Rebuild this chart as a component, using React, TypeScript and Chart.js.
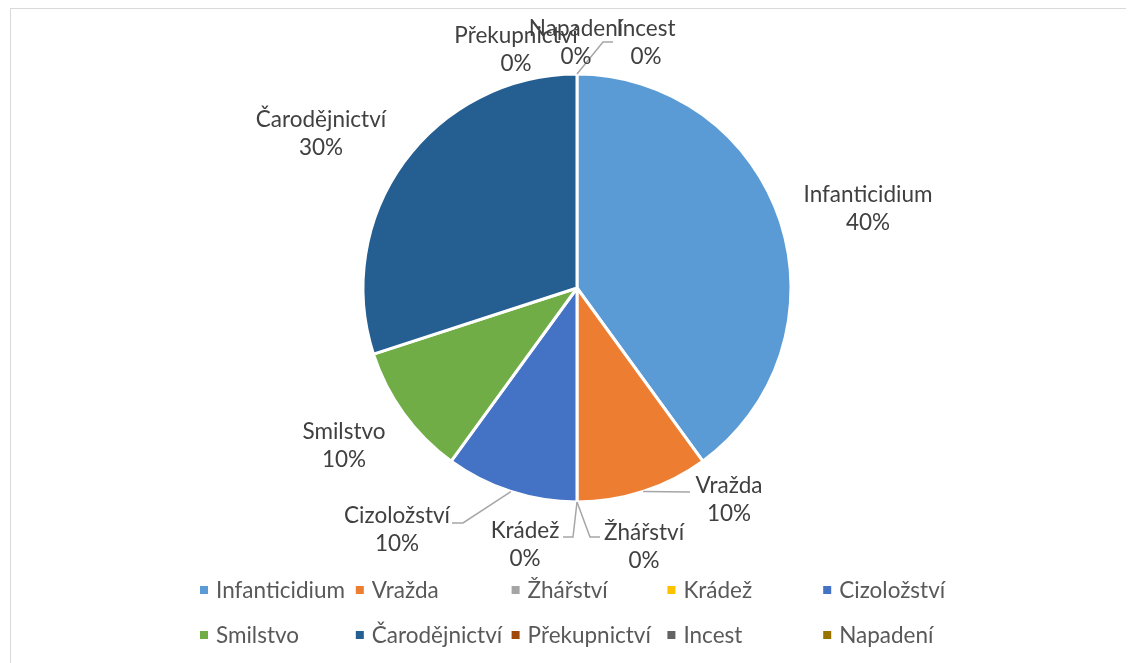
import React, { useEffect, useRef } from "react";
import { Chart, registerables } from "chart.js";

Chart.register(...registerables);

const categories = [
  "Infanticidium",
  "Vražda",
  "Žhářství",
  "Krádež",
  "Cizoložství",
  "Smilstvo",
  "Čarodějnictví",
  "Překupnictví",
  "Incest",
  "Napadení",
];
const counts = [4, 1, 0, 0, 1, 1, 3, 0, 0, 0];
const colors = [
  "#5B9BD5",
  "#ED7D31",
  "#A5A5A5",
  "#FFC000",
  "#4472C4",
  "#70AD47",
  "#255E91",
  "#9E480E",
  "#636363",
  "#997300",
];

// label layout: block centre x and first baseline, relative to pie centre
const labelOffsets: number[][] = [
  [291, -86],
  [152, 205],
  [67, 252],
  [-52, 250],
  [-180, 235],
  [-233, 151],
  [-256, -161],
  [-61, -245],
  [69, -252],
  [-1, -252],
];
// leader line bend points after the slice edge point, relative to pie centre
const leaderPoints: number[][][] = [
  [],
  [[113, 204]],
  [[13, 249], [23, 249]],
  [[-4, 249], [-14, 249]],
  [[-114, 235], [-125, 235]],
  [],
  [],
  [],
  [],
  [[26, -246], [36, -246]],
];

const FONT = "Lato, 'Open Sans', sans-serif";
const FONT_SIZE = 22.5;

const labelPlugin = {
  id: "excelLabels",
  afterDraw(chart: any) {
    const ctx = chart.ctx as CanvasRenderingContext2D;
    const meta = chart.getDatasetMeta(0);
    const data = chart.data.datasets[0].data as number[];
    const total = data.reduce((a, b) => a + b, 0);
    if (!meta.data.length) return;
    const cx = meta.data[0].x;
    const cy = meta.data[0].y;
    ctx.save();
    // leader lines
    ctx.strokeStyle = "#A6A6A6";
    ctx.lineWidth = 1.5;
    meta.data.forEach((el: any, i: number) => {
      const pts = leaderPoints[i];
      if (!pts || !pts.length) return;
      const mid = (el.startAngle + el.endAngle) / 2;
      const r = el.outerRadius;
      ctx.beginPath();
      ctx.moveTo(cx + Math.cos(mid) * r, cy + Math.sin(mid) * r);
      pts.forEach((p) => ctx.lineTo(cx + p[0], cy + p[1]));
      ctx.stroke();
    });
    // labels
    ctx.font = `${FONT_SIZE}px ${FONT}`;
    ctx.fillStyle = "#404040";
    ctx.textAlign = "center";
    ctx.textBaseline = "alphabetic";
    meta.data.forEach((_el: any, i: number) => {
      const off = labelOffsets[i];
      const pct = Math.round((data[i] / total) * 100) + "%";
      ctx.fillText(categories[i], cx + off[0], cy + off[1]);
      ctx.fillText(pct, cx + off[0], cy + off[1] + 28);
    });
    // legend (5 columns x 2 rows)
    const colStart = -377;
    const colStep = 155.8;
    const rowCentres = [302, 347];
    ctx.textAlign = "left";
    categories.forEach((name, i) => {
      const col = i % 5;
      const row = Math.floor(i / 5);
      const x = cx + colStart + col * colStep;
      const y = cy + rowCentres[row];
      ctx.fillStyle = colors[i];
      ctx.fillRect(x, y - 4, 8, 8);
      ctx.fillStyle = "#595959";
      ctx.fillText(name, x + 16, y + 8);
    });
    ctx.restore();
  },
};

export default function App() {
  const canvasRef = useRef<HTMLCanvasElement | null>(null);

  useEffect(() => {
    if (!canvasRef.current) return;
    const chart = new Chart(canvasRef.current, {
      type: "pie",
      data: {
        labels: categories,
        datasets: [
          {
            data: counts,
            backgroundColor: colors,
            borderColor: "#FFFFFF",
            borderWidth: 3,
            radius: 214,
          } as any,
        ],
      },
      options: {
        responsive: true,
        maintainAspectRatio: false,
        animation: false,
        layout: { padding: { left: 2, right: 0, top: 0, bottom: 112 } },
        plugins: {
          legend: { display: false },
          tooltip: { enabled: false },
        },
      },
      plugins: [labelPlugin],
    });
    return () => chart.destroy();
  }, []);

  return (
    <div
      style={{
        position: "relative",
        marginLeft: 2,
        width: 1130,
        height: 670,
        border: "1px solid #D9D9D9",
        background: "#FFFFFF",
      }}
    >
      <canvas ref={canvasRef} />
    </div>
  );
}
